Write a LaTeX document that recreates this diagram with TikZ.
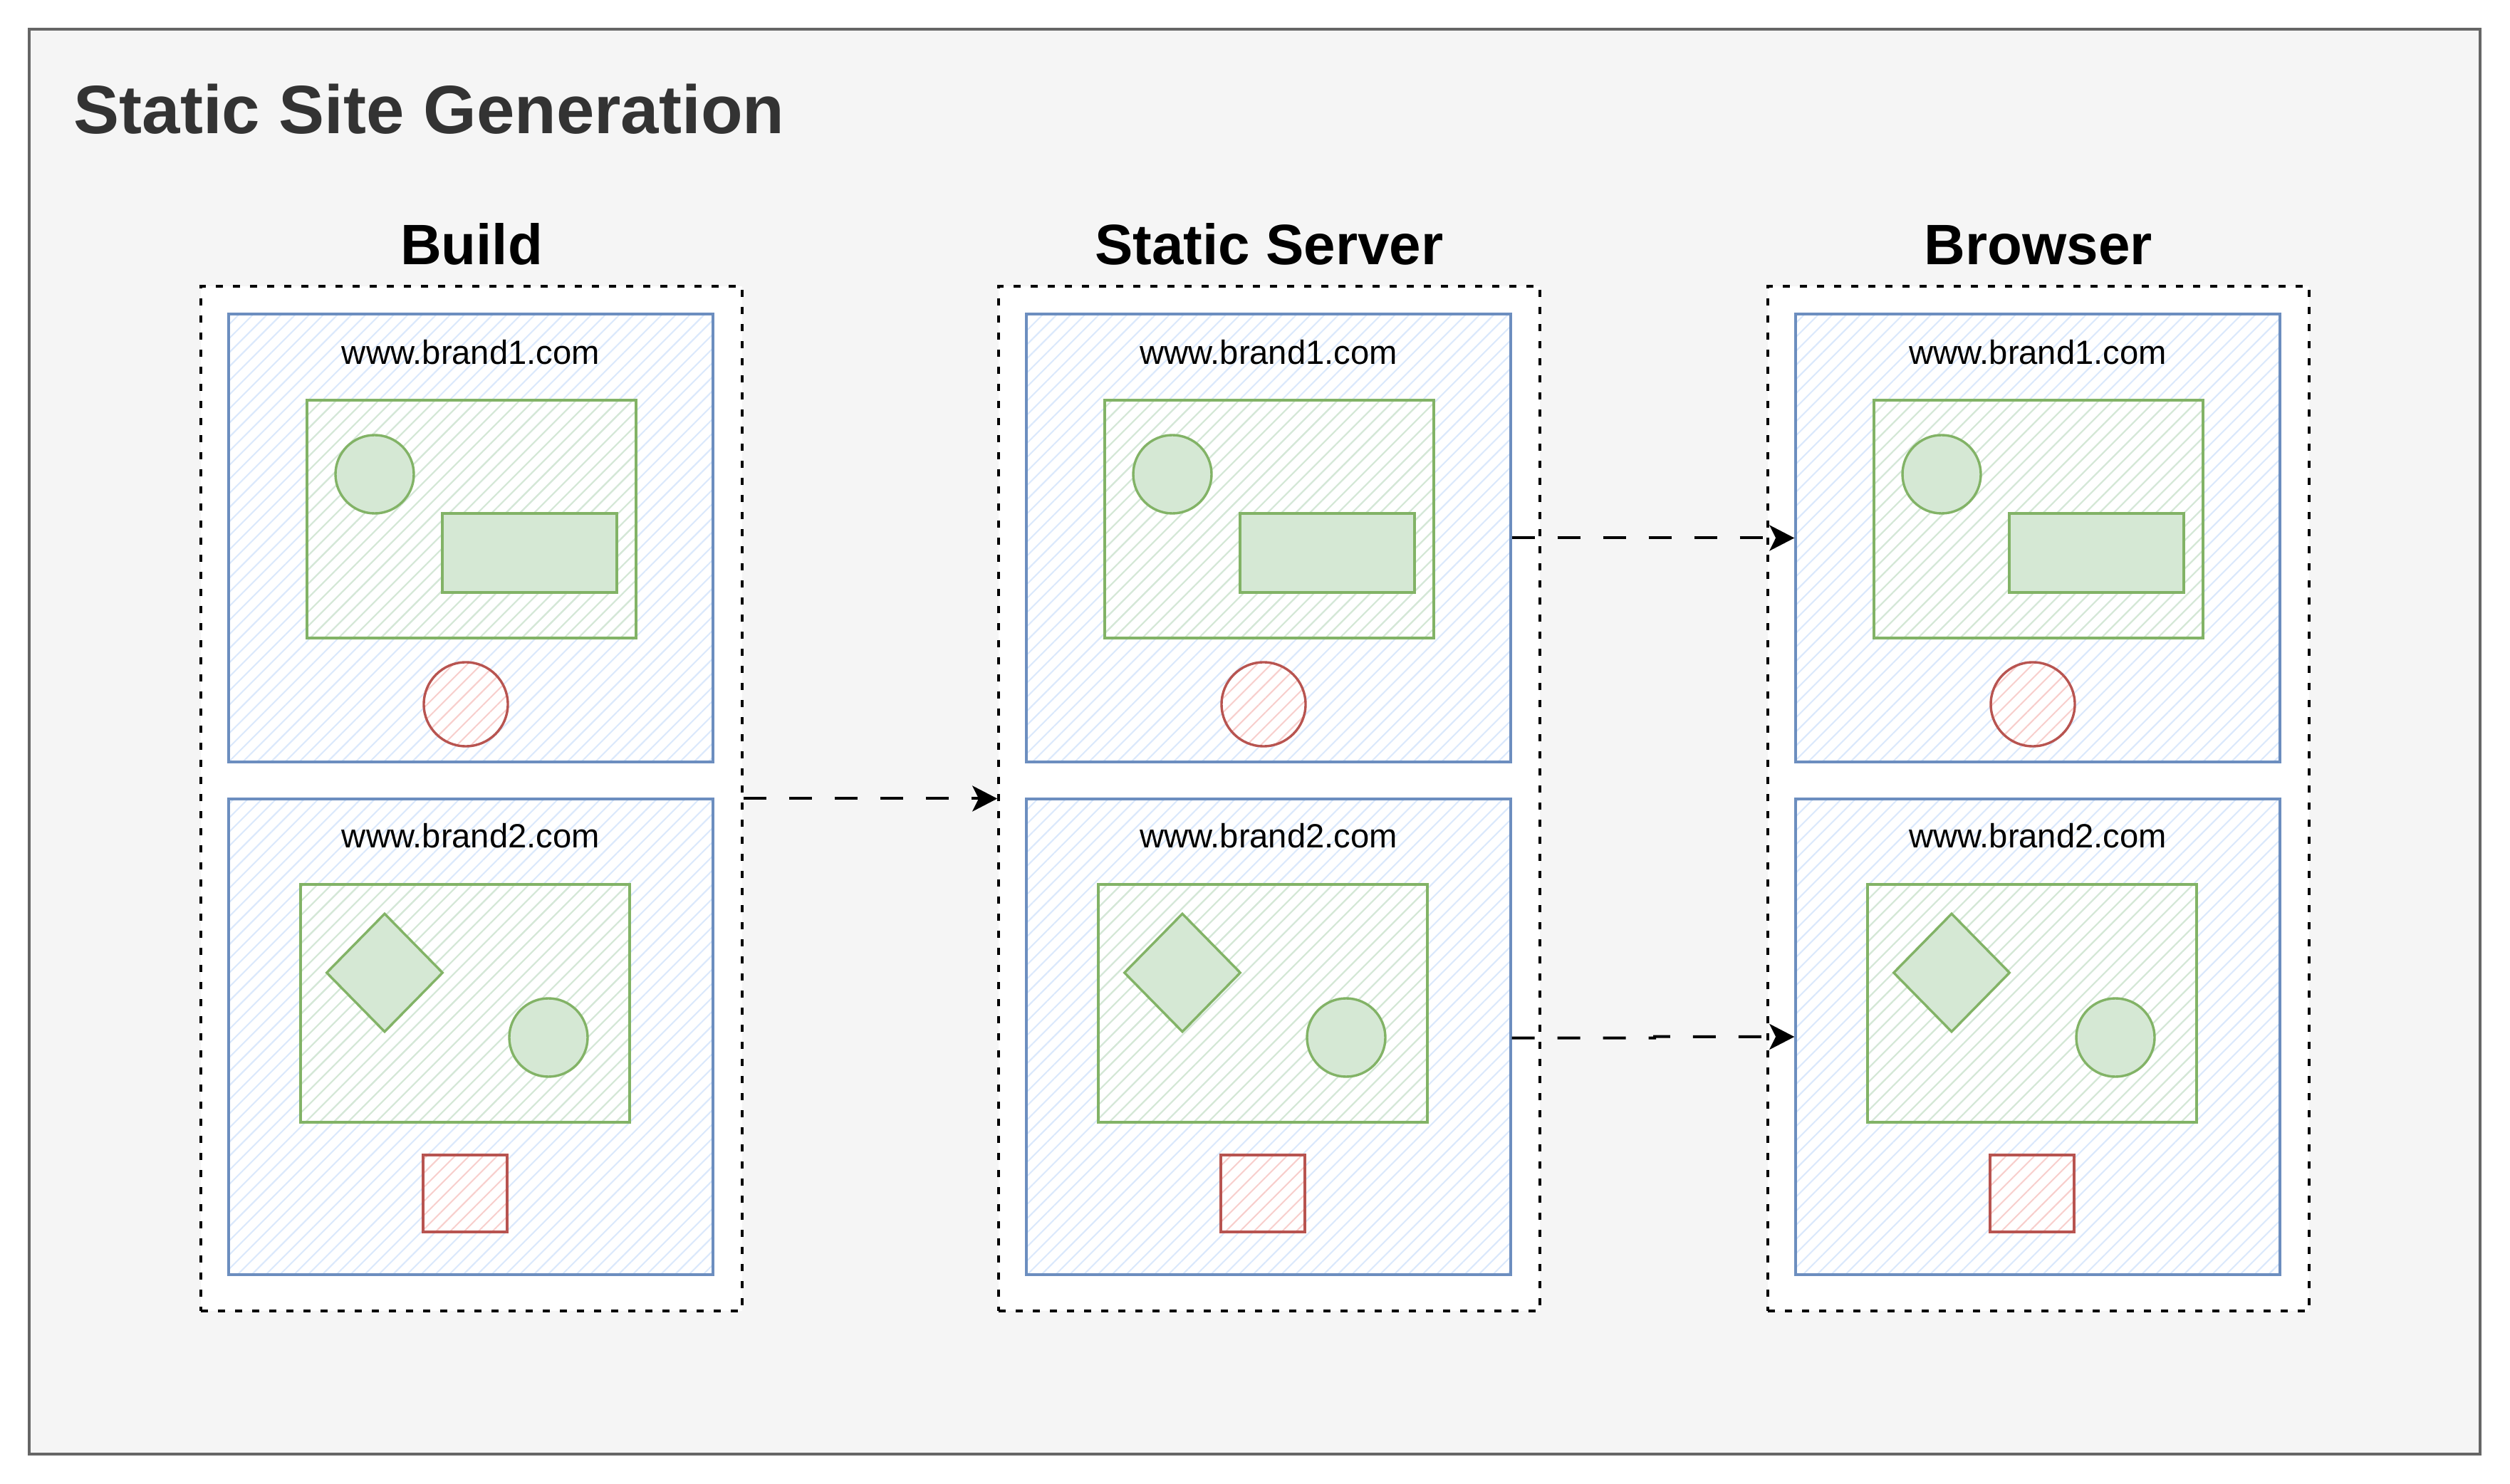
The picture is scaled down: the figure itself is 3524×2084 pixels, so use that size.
\documentclass[tikz,border=0pt]{standalone}
\usepackage{fontspec}
\setmainfont{Liberation Sans}
\usetikzlibrary{arrows.meta,fit,patterns.meta,shapes.geometric}
\definecolor{outerfill}{HTML}{F5F5F5}
\definecolor{outerline}{HTML}{666666}
\definecolor{titlegray}{HTML}{333333}
\definecolor{bluefill}{HTML}{DAE8FC}
\definecolor{blueline}{HTML}{6C8EBF}
\definecolor{greenfill}{HTML}{D5E8D4}
\definecolor{greenline}{HTML}{82B366}
\definecolor{redfill}{HTML}{F8CECC}
\definecolor{redline}{HTML}{B85450}
\tikzset{
  hatchlines/.style={pattern={Lines[angle=45,distance=3.5pt,line width=0.5pt]}, pattern color=#1},
  outerbox/.style={draw=outerline, fill=outerfill, line width=1pt, inner sep=0pt},
  column/.style={draw=black, fill=white, line width=0.9pt, dash pattern=on 2.5pt off 3.5pt, inner sep=0pt},
  sitebox/.style={draw=blueline, line width=0.85pt, inner sep=0pt, preaction={fill=white}, hatchlines=bluefill},
  pageframe/.style={draw=greenline, line width=0.85pt, inner sep=0pt, hatchlines=greenfill},
  gshape/.style={draw=greenline, fill=greenfill, line width=0.85pt, inner sep=0pt},
  rshape/.style={draw=redline, line width=0.85pt, inner sep=0pt, preaction={fill=white}, hatchlines=redfill},
  urltext/.style={font=\fontsize{11.8}{14}\selectfont, text=black, inner sep=0pt},
  headertext/.style={font=\fontsize{20}{24}\selectfont\bfseries, text=black, inner sep=0pt},
  titletext/.style={font=\fontsize{24}{29}\selectfont\bfseries, text=titlegray, inner sep=0pt},
  conn/.style={draw=black, line width=1pt, dash pattern=on 8pt off 8pt, -{Stealth[length=8.75pt,width=9pt,inset=2.2pt]}}
}
\begin{document}
\begin{tikzpicture}[x=0.25pt,y=-0.25pt]
\fill[white] (0,0) rectangle (3524,2084);
\useasboundingbox (0,0) rectangle (3524,2084);
\node[outerbox, fit={(41,41)(3482,2042)}] (outer) {};
\node[titletext, anchor=base west] (title) at (103,188) {Static Site Generation};
\foreach \c/\dx/\hd in {1/0pt/Build, 2/280pt/Static Server, 3/550pt/Browser}{
  \begin{scope}[xshift=\dx]
    \node[headertext, anchor=base] (head\c) at (662,372) {\hd};
    \node[column, fit={(282,402)(1042,1841)}] (cont\c) {};
    % first site
    \node[sitebox, fit={(321,441)(1001,1070)}] (bt\c) {};
    \node[urltext, anchor=base] (urla\c) at (661,512) {www.brand1.com};
    \node[pageframe, fit={(431,562)(893,896)}] (fa\c) {};
    \node[gshape, circle, minimum size=27.5pt] (gca\c) at (526,666) {};
    \node[gshape, fit={(621,721)(866,832)}] (gra\c) {};
    \node[rshape, circle, minimum size=29.5pt] (rca\c) at (654,989) {};
    % second site
    \node[sitebox, fit={(321,1122)(1001,1790)}] (bb\c) {};
    \node[urltext, anchor=base] (urlb\c) at (661,1191) {www.brand2.com};
    \node[pageframe, fit={(422,1242)(884,1576)}] (fb\c) {};
    \node[gshape, diamond, minimum width=41pt, minimum height=41.75pt] (gdb\c) at (540,1366) {};
    \node[gshape, circle, minimum size=27.5pt] (gcb\c) at (770,1457) {};
    \node[rshape, fit={(594,1622)(712,1730)}] (rsb\c) {};
  \end{scope}
}
\draw[conn] (cont1.east) -- (cont2.west);
\draw[conn] (bt2.east) -- (bt3.west);
\coordinate (jog) at (2323,1455.7);
\draw[conn] ([yshift=-0.4pt]bb2.east) -| (jog) -- (bb3.west);
\end{tikzpicture}
\end{document}
